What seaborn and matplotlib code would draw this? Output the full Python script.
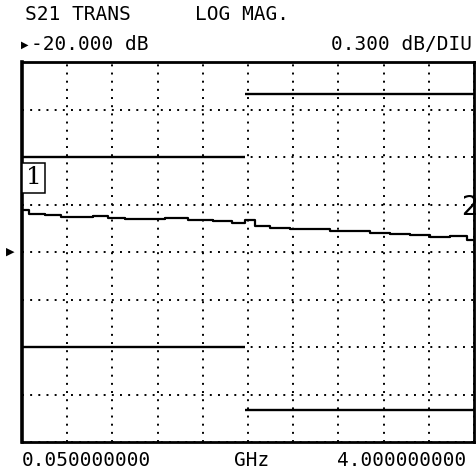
import numpy as np
import pandas as pd
import seaborn as sns
import matplotlib.pyplot as plt

# S21 transmission trace (GHz, dB)
freq = [0.05, 0.164, 0.338, 0.452, 0.601, 0.732, 0.863, 1.038, 1.212, 1.387,
        1.606, 1.824, 1.955, 2.042, 2.130, 2.305, 2.479, 2.654, 2.829, 3.004,
        3.178, 3.353, 3.528, 3.703, 3.878, 4.0]
s21_db = [-19.735, -19.760, -19.766, -19.779, -19.779, -19.773, -19.785, -19.792,
          -19.792, -19.785, -19.798, -19.804, -19.817, -19.798, -19.836, -19.848,
          -19.855, -19.855, -19.867, -19.867, -19.880, -19.886, -19.893, -19.905,
          -19.899, -19.924]

# limit lines
limit_start = [0.05, 2.0]
limit_stop = [2.0, 4.0]
upper_limit = [-19.4, -19.0]
lower_limit = [-20.6, -21.0]

ref_level = -20.0
scale = 0.3
start_ghz, stop_ghz = 0.05, 4.0

df = pd.DataFrame({"freq": freq, "s21": s21_db})

sns.set_style("white")
plt.rcParams["font.family"] = ["DejaVu Sans Mono", "DejaVu Sans"]
plt.rcParams["text.color"] = "black"

fig = plt.figure(figsize=(4.77, 4.76), dpi=100)
ax = fig.add_axes([22 / 477, 34 / 476, 452 / 477, 380 / 476])

sns.lineplot(data=df, x="freq", y="s21", color="black", linewidth=1.6,
             drawstyle="steps-mid", ax=ax)
ax.hlines(upper_limit, limit_start, limit_stop, color="black", linewidth=1.7)
ax.hlines(lower_limit, limit_start, limit_stop, color="black", linewidth=1.7)

ax.set_xlim(start_ghz, stop_ghz)
ax.set_ylim(ref_level - 4 * scale, ref_level + 4 * scale)
ax.set_xticks(np.linspace(start_ghz, stop_ghz, 11))
ax.set_yticks(np.linspace(ref_level - 4 * scale, ref_level + 4 * scale, 9))
ax.grid(True, color="black", linestyle=(0, (1, 3.2)), linewidth=1.4)
ax.tick_params(length=0, labelbottom=False, labelleft=False)
ax.set_xlabel("")
ax.set_ylabel("")
for sp in ax.spines.values():
    sp.set_color("black")
    sp.set_linewidth(2)
ax.spines["left"].set_linewidth(2.6)

# markers
ax.text(0.026, 0.695, "1", transform=ax.transAxes, ha="center", va="center",
        fontsize=18, family="DejaVu Serif",
        bbox=dict(boxstyle="square,pad=0.15", facecolor="white", edgecolor="black", linewidth=1.1))
ax.text(0.99, 0.616, "2", transform=ax.transAxes, ha="center", va="center",
        fontsize=19, family="DejaVu Sans")

# reference level pointer
trans = ax.get_yaxis_transform()
ax.text(-0.027, ref_level, "▶", transform=trans, ha="center", va="center",
        fontsize=8, family="DejaVu Sans", clip_on=False)

# header and footer
fs = 14
fig.text(25 / 477, 1 - 14 / 476, "S21 TRANS", ha="left", va="center", fontsize=fs)
fig.text(195 / 477, 1 - 14 / 476, "LOG MAG.", ha="left", va="center", fontsize=fs)
fig.text(25 / 477, 1 - 45 / 476, "▶", ha="center", va="center", fontsize=7, family="DejaVu Sans")
fig.text(31 / 477, 1 - 45 / 476, "-20.000 dB", ha="left", va="center", fontsize=fs)
fig.text(472 / 477, 1 - 45 / 476, "0.300 dB/DIU", ha="right", va="center", fontsize=fs)
fig.text(22 / 477, 1 - 461 / 476, "0.050000000", ha="left", va="center", fontsize=fs)
fig.text(252 / 477, 1 - 461 / 476, "GHz", ha="center", va="center", fontsize=fs)
fig.text(466 / 477, 1 - 461 / 476, "4.000000000", ha="right", va="center", fontsize=fs)

fig.savefig("out.png", dpi=100, facecolor="white")
